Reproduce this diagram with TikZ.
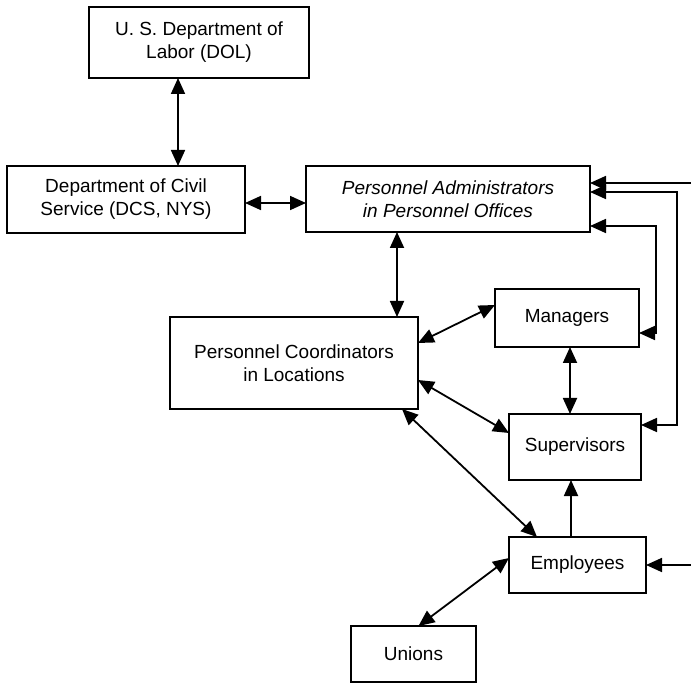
\documentclass[tikz,border=0pt]{standalone}
\usepackage{fontspec}
\setmainfont{Liberation Sans}
\usetikzlibrary{arrows.meta}
\begin{document}
\begin{tikzpicture}[x=1pt,y=-1pt,
  box/.style={draw,line width=1.8pt,inner sep=0pt,outer sep=0pt,align=center,font=\fontsize{19}{23}\selectfont},
  conn/.style={line width=1.8pt},
  >={Triangle[length=16pt,width=14pt]}]
\useasboundingbox (0,0) rectangle (691,684);
\node[box,minimum width=220pt,minimum height=71pt] (dol) at (199,42.5) {U. S. Department of\\Labor (DOL)};
\node[box,minimum width=238pt,minimum height=67pt] (dcs) at (126,199.5) {Department of Civil\\Service (DCS, NYS)};
\node[box,minimum width=284pt,minimum height=66pt] (pa) at (448,199) {\itshape Personnel Administrators\\\itshape in Personnel Offices};
\node[box,minimum width=248pt,minimum height=92pt] (pc) at (294,363) {Personnel Coordinators\\in Locations};
\node[box,minimum width=144pt,minimum height=58pt] (man) at (567,318) {Managers};
\node[box,minimum width=132pt,minimum height=66pt] (sup) at (575,447) {Supervisors};
\node[box,minimum width=137pt,minimum height=56pt] (emp) at (577.5,565) {Employees};
\node[box,minimum width=125pt,minimum height=56pt] (un) at (413.5,654) {Unions};
\coordinate (in1) at (691,183);
\coordinate (in2) at (691,565);
% connectors
\draw[conn,<->] ([xshift=-21pt]dol.south) -- ([xshift=52pt]dcs.north);
\draw[conn,<->] ([yshift=-3.5pt]dcs.east) -- ([yshift=-4pt]pa.west);
\draw[conn,<->] ([xshift=-51pt]pa.south) -- ([xshift=103pt]pc.north);
\draw[conn,<->] ([yshift=-26pt]pc.north east) -- ([yshift=-16pt]man.north west);
\draw[conn,<->] ([yshift=29pt]pc.south east) -- ([yshift=-19pt]sup.north west);
\draw[conn,<->] ([xshift=-16pt]pc.south east) -- ([xshift=28pt]emp.north west);
\draw[conn,<->] ([xshift=5pt]un.north) -- ([yshift=-21pt]emp.north west);
\draw[conn,<->] ([xshift=3pt]man.south) -- ([xshift=-5pt]sup.north);
\draw[conn,->] ([xshift=-6.5pt]emp.north) -- ([xshift=-4pt]sup.south);
\draw[conn,->] (in1) -- ([yshift=-17pt]pa.north east);
\draw[conn,<->] ([yshift=-26pt]pa.north east) -- ++(87,0) |- ([yshift=-11pt]sup.north east);
\draw[conn,<->] ([yshift=-60pt]pa.north east) -- ++(66,0) |- ([yshift=-44pt]man.north east);
\draw[conn,->] (in2) -- (emp.east);
\end{tikzpicture}
\end{document}
